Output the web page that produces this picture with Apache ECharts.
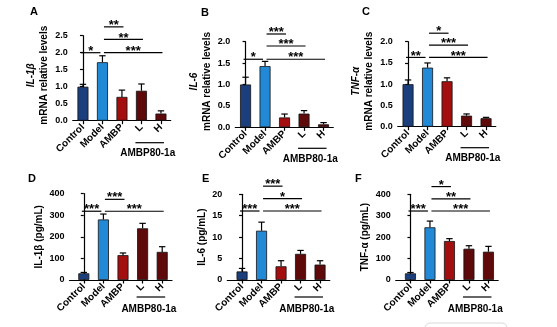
<!DOCTYPE html>
<html><head><meta charset="utf-8">
<script src="https://cdn.jsdelivr.net/npm/echarts@6/dist/echarts.min.js"></script>
<style>html,body{margin:0;padding:0;background:#fff}#c{width:557px;height:327px}</style>
</head><body><div id="c"></div>
<script>
// ---------- data ----------
const categories = ['Control', 'Model', 'AMBP', 'L', 'H'];
const groupLabel = 'AMBP80-1a';
const groupSpan = [3, 4];
const barColors = ['#1b3f7c', '#2189d6', '#a30f0f', '#5e0a0a', '#5e0a0a'];

// A: IL-1β mRNA
const aMean = [1.00, 1.72, 0.70, 0.88, 0.21];
const aSD   = [0.07, 0.19, 0.20, 0.20, 0.08];
const aSig  = [[0, 1, 2.0, '*'], [1, 4, 2.0, '***'], [1, 3, 2.39, '**'], [1, 2, 2.76, '**']];
// B: IL-6 mRNA
const bMean = [1.00, 1.43, 0.23, 0.32, 0.07];
const bSD   = [0.17, 0.11, 0.08, 0.07, 0.04];
const bSig  = [[0, 1, 1.59, '*'], [1, 4, 1.59, '***'], [1, 3, 1.90, '***'], [1, 2, 2.18, '***']];
// C: TNF-α mRNA
const cMean = [1.00, 1.39, 1.07, 0.26, 0.20];
const cSD   = [0.10, 0.11, 0.08, 0.04, 0.02];
const cSig  = [[0, 1, 1.63, '**'], [1, 4, 1.63, '***'], [1, 3, 1.92, '***'], [1, 2, 2.20, '*']];
// D: IL-1β pg/mL
const dMean = [31, 280, 115, 239, 130];
const dSD   = [4, 25, 10, 23, 24];
const dSig  = [[0, 1, 318, '***'], [1, 4, 318, '***'], [1, 2, 373, '***']];
// E: IL-6 pg/mL
const eMean = [2.0, 11.5, 3.2, 6.1, 3.6];
const eSD   = [0.7, 2.0, 1.3, 0.8, 0.9];
const eSig  = [[0, 1, 16.1, '***'], [1, 4, 16.1, '***'], [1, 3, 19.0, '*'], [1, 2, 21.9, '***']];
// F: TNF-α pg/mL
const fMean = [31, 246, 182, 146, 132];
const fSD   = [4, 29, 11, 14, 25];
const fSig  = [[0, 1, 322, '***'], [1, 4, 322, '***'], [1, 3, 379, '**'], [1, 2, 436, '*']];

// ---------- layout ----------
const FONT = '"Liberation Sans", Arial, sans-serif';
const panels = [
  {letter: 'A', gene: 'IL-1β', unit: null, mean: aMean, sd: aSD, sig: aSig, max: 2.5, interval: 0.5, dec: 1,
   left: 72.7, top: 35.7, bottom: 120.7, gap: 0.5, band: 19.5, ul: 22, tx: 6, nameGap: 22, lx: 34, ly: 12},
  {letter: 'B', gene: 'IL-6', unit: null, mean: bMean, sd: bSD, sig: bSig, max: 2.0, interval: 0.5, dec: 1,
   left: 235.3, top: 41.7, bottom: 127.3, gap: 0.5, band: 19.5, ul: 21, tx: 6, nameGap: 20, lx: 205, ly: 13},
  {letter: 'C', gene: 'TNF-α', unit: null, mean: cMean, sd: cSD, sig: cSig, max: 2.0, interval: 0.5, dec: 1,
   left: 397.7, top: 41.7, bottom: 126.7, gap: 0.6, band: 19.5, ul: 21, tx: 6, nameGap: 22, lx: 366, ly: 12},
  {letter: 'D', gene: null, unit: 'IL-1β (pg/mL)', mean: dMean, sd: dSD, sig: dSig, max: 400, interval: 100, dec: 0,
   left: 69.5, top: 193.5, bottom: 280, gap: 4.5, band: 19.6, ul: 17, tx: 7, nameGap: 17, lx: 32, ly: 179},
  {letter: 'E', gene: null, unit: 'IL-6 (pg/mL)', mean: eMean, sd: eSD, sig: eSig, max: 20, interval: 5, dec: 0,
   left: 227.3, top: 194.3, bottom: 280, gap: 5, band: 19.5, ul: 17, tx: 7, nameGap: 16, lx: 206, ly: 179},
  {letter: 'F', gene: null, unit: 'TNF-α (pg/mL)', mean: fMean, sd: fSD, sig: fSig, max: 400, interval: 100, dec: 0,
   left: 395.7, top: 194.3, bottom: 280, gap: 5, band: 19.5, ul: 17, tx: 7, nameGap: 20, lx: 359, ly: 179}
];

const grids = [], xAxes = [], yAxes = [], series = [], graphics = [];
const idx = categories.map((c, i) => i);

panels.forEach((p, k) => {
  grids.push({left: p.left, top: p.top, width: p.gap + 5 * p.band, height: p.bottom - p.top,
              containLabel: false, outerBoundsMode: 'none'});
  xAxes.push({
    type: 'value', gridIndex: k, min: -0.5 - p.gap / p.band, max: 4.5,
    splitLine: {show: false},
    axisLine: {show: true, onZero: false, lineStyle: {color: '#000', width: 1.2}},
    axisTick: {show: true, length: 3.5, customValues: idx, lineStyle: {color: '#000', width: 1.2}},
    axisLabel: {show: true, customValues: idx, rotate: 45, margin: 5,
      formatter: v => categories[Math.round(v)] || '',
      fontFamily: FONT, fontWeight: 'bold', fontSize: 10, color: '#000'}
  });
  const name = p.gene ? '{i|' + p.gene + '}\n{n|mRNA relative levels}' : p.unit;
  yAxes.push({
    type: 'value', gridIndex: k, min: 0, max: p.max, interval: p.interval,
    splitLine: {show: false},
    axisLine: {show: true, lineStyle: {color: '#000', width: 1.2}},
    axisTick: {show: true, length: 3, lineStyle: {color: '#000', width: 1.2}},
    axisLabel: {margin: 5, formatter: v => v.toFixed(p.dec),
      fontFamily: FONT, fontWeight: 'bold', fontSize: 9, color: '#000'},
    name: name, nameLocation: 'middle', nameGap: p.nameGap,
    nameTextStyle: {fontFamily: FONT, fontWeight: 'bold', fontSize: 10, color: '#000', lineHeight: 13,
      padding: p.gene ? [0, 0, 0, 6] : 0,
      rich: {i: {fontFamily: FONT, fontStyle: 'italic', fontWeight: 'bold', fontSize: 10, lineHeight: 13, color: '#000'},
             n: {fontFamily: FONT, fontWeight: 'bold', fontSize: 10, lineHeight: 13, color: '#000'}}}
  });

  series.push({
    type: 'bar', xAxisIndex: k, yAxisIndex: k, barWidth: 11,
    data: p.mean.map((v, i) => ({value: [i, v], itemStyle: {color: barColors[i]}})),
    itemStyle: {borderColor: '#111', borderWidth: 0.8}
  });
  series.push({
    type: 'custom', xAxisIndex: k, yAxisIndex: k, clip: false, z: 5,
    data: p.mean.map((v, i) => [i, v, v + p.sd[i]]),
    renderItem: function (params, api) {
      const x = api.value(0);
      const p0 = api.coord([x, api.value(1)]), p1 = api.coord([x, api.value(2)]);
      const st = {stroke: '#000', lineWidth: 1.2};
      return {type: 'group', children: [
        {type: 'line', shape: {x1: p0[0], y1: p0[1], x2: p1[0], y2: p1[1]}, style: st},
        {type: 'line', shape: {x1: p1[0] - 3.2, y1: p1[1], x2: p1[0] + 3.2, y2: p1[1]}, style: st}
      ]};
    }
  });
  const sig = p.sig;
  series.push({
    type: 'custom', xAxisIndex: k, yAxisIndex: k, clip: false, z: 5,
    data: sig.map(s => [s[0], s[2], s[1]]),
    renderItem: function (params, api) {
      const s = sig[params.dataIndex];
      const a = api.coord([s[0], s[2]]), b = api.coord([s[1], s[2]]);
      const off = s[0] === 0 ? -2 : 1.5;
      const x1 = a[0] + off, x2 = b[0] + off, y = a[1];
      return {type: 'group', children: [
        {type: 'line', shape: {x1: x1, y1: y, x2: x2, y2: y}, style: {stroke: '#000', lineWidth: 1.2}},
        {type: 'text', style: {text: s[3], x: (x1 + x2) / 2, y: y + 5, align: 'center', verticalAlign: 'bottom',
          font: 'bold 13px ' + FONT, fill: '#000'}}
      ]};
    }
  });
  series.push({
    type: 'custom', xAxisIndex: k, yAxisIndex: k, clip: false, z: 5,
    data: [[groupSpan[0], 0]],
    renderItem: function (params, api) {
      const a = api.coord([groupSpan[0], 0]), b = api.coord([groupSpan[1], 0]);
      const y = a[1] + p.ul, x1 = a[0] - 6, x2 = b[0] + 3;
      return {type: 'group', children: [
        {type: 'line', shape: {x1: x1, y1: y, x2: x2, y2: y}, style: {stroke: '#000', lineWidth: 1.2}},
        {type: 'text', style: {text: groupLabel, x: (x1 + x2) / 2 - 2, y: y + p.tx, align: 'center', verticalAlign: 'top',
          font: 'bold 10px ' + FONT, fill: '#000'}}
      ]};
    }
  });
  graphics.push({type: 'text', left: p.lx - 4, top: p.ly - 6,
    style: {text: p.letter, font: 'bold 11px ' + FONT, fill: '#000'}});
});

graphics.push({type: 'rect', shape: {x: 425, y: 323, width: 82, height: 14, r: 5},
  style: {fill: 'none', stroke: '#d9d9d9', lineWidth: 1}});

const chart = echarts.init(document.getElementById('c'), null, {renderer: 'canvas'});
chart.setOption({
  animation: false,
  backgroundColor: '#fff',
  grid: grids, xAxis: xAxes, yAxis: yAxes, series: series, graphic: graphics
});
</script>
</body></html>
